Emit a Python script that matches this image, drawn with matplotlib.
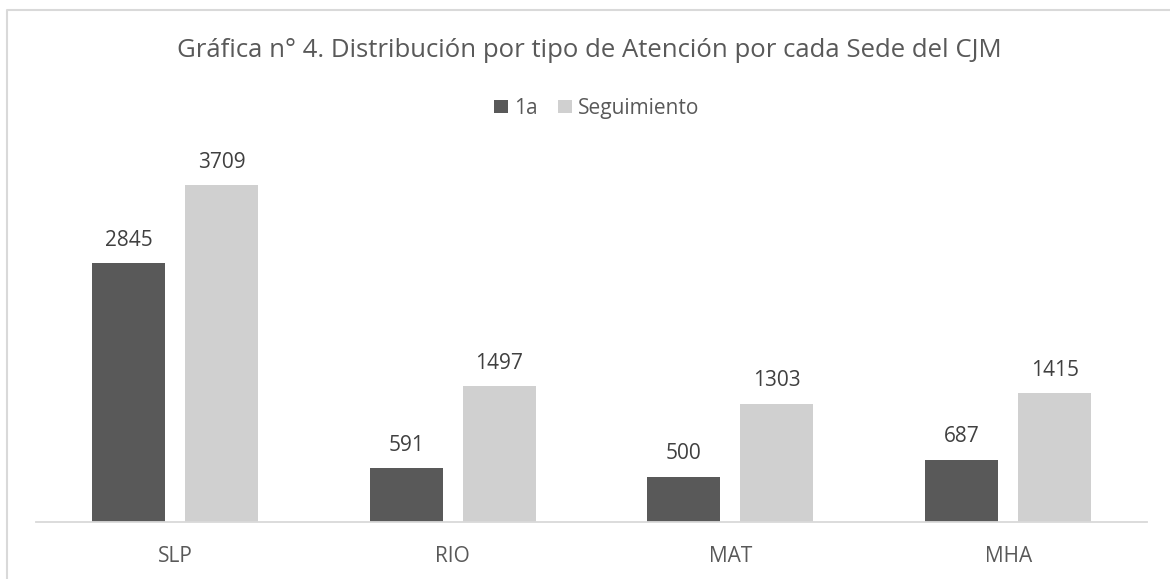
import matplotlib

matplotlib.use("Agg")
import matplotlib.pyplot as plt
import numpy as np

sedes = ["SLP", "RIO", "MAT", "MHA"]
primera = [2845, 591, 500, 687]
seguimiento = [3709, 1497, 1303, 1415]
series = ["1a", "Seguimiento"]
titulo = "Gráfica n° 4. Distribución por tipo de Atención por cada Sede del CJM"

OSCURO = "#595959"
CLARO = "#D0D0D0"
TEXTO = "#595959"


def main():
    plt.rcParams["font.family"] = ["Open Sans", "DejaVu Sans"]

    fig = plt.figure(figsize=(11.7, 5.79), dpi=100)
    ax = fig.add_axes([0.0308, 0.0984, 0.9496, 0.628])

    x = np.arange(len(sedes))
    ancho = 0.263
    desp = 0.1675
    b1 = ax.bar(x - desp, primera, ancho, color=OSCURO, label=series[0])
    b2 = ax.bar(x + desp, seguimiento, ancho, color=CLARO, label=series[1])

    for barras in (b1, b2):
        for rect in barras:
            ax.annotate(
                f"{int(rect.get_height())}",
                (rect.get_x() + rect.get_width() / 2, rect.get_height()),
                xytext=(0, 12.5), textcoords="offset points",
                ha="center", va="baseline", fontsize=15, color="#404040",
            )

    ax.set_xlim(-0.5, len(sedes) - 0.5)
    ax.set_ylim(0, 4000)
    ax.set_xticks(x)
    ax.set_xticklabels(sedes, fontsize=15, color=TEXTO)
    ax.tick_params(axis="x", length=0, pad=17.5)
    ax.set_yticks([])
    for lado in ("top", "right", "left"):
        ax.spines[lado].set_visible(False)
    ax.spines["bottom"].set_color("#D9D9D9")
    ax.spines["bottom"].set_linewidth(1.3)

    fig.text(0.504, 1 - 57 / 579, titulo, ha="center", va="baseline",
             fontsize=18.5, color=TEXTO)
    fig.legend(loc="center", bbox_to_anchor=(0.51, 0.813), ncol=2,
               frameon=False, fontsize=15, labelcolor=TEXTO,
               handlelength=0.65, handleheight=0.65, handletextpad=0.3,
               columnspacing=1.0)

    # marco del gráfico (solo se ven los bordes superior e izquierdo)
    fig.add_artist(plt.Line2D([6.5 / 1170, 6.5 / 1170, 1.0],
                              [0.0, 1 - 9.5 / 579, 1 - 9.5 / 579],
                              transform=fig.transFigure,
                              color="#D9D9D9", linewidth=1.5))

    fig.savefig("out.png", dpi=100)


if __name__ == "__main__":
    main()
